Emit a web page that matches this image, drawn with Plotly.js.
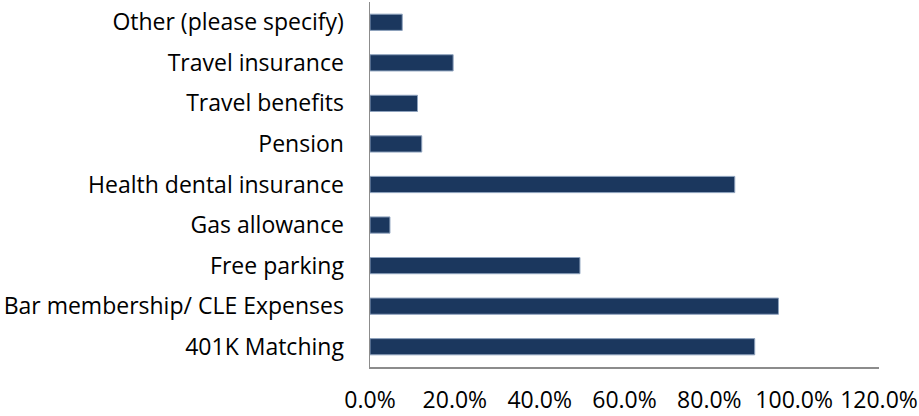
<!DOCTYPE html>
<html>
<head>
<meta charset="utf-8">
<script src="https://cdn.plot.ly/plotly-3.0.1.min.js"></script>
<style>html,body{margin:0;padding:0;background:#fff;}#chart{width:919px;height:416px;}</style>
</head>
<body>
<div id="chart"></div>
<script>
const categories = [
  "401K Matching",
  "Bar membership/ CLE Expenses",
  "Free parking",
  "Gas allowance",
  "Health dental insurance",
  "Pension",
  "Travel benefits",
  "Travel insurance",
  "Other (please specify)"
];
const values = [0.907, 0.963, 0.495, 0.047, 0.860, 0.122, 0.112, 0.196, 0.076];
const tickVals = [0, 0.2, 0.4, 0.6, 0.8, 1.0, 1.2];
const tickText = ["0.0%", "20.0%", "40.0%", "60.0%", "80.0%", "100.0%", "120.0%"];

const trace = {
  type: "bar",
  orientation: "h",
  x: values,
  y: categories,
  marker: { color: "#1b375e", line: { color: "#8ea2bd", width: 1 } },
  hoverinfo: "x+y"
};

const layout = {
  width: 919,
  height: 416,
  margin: { l: 370, r: 40, t: 2, b: 49, pad: 0 },
  paper_bgcolor: "#ffffff",
  plot_bgcolor: "#ffffff",
  bargap: 0.6,
  showlegend: false,
  font: { family: "'Open Sans', sans-serif", size: 23, color: "#000000" },
  xaxis: {
    range: [0, 1.2],
    tickvals: tickVals,
    ticktext: tickText,
    showgrid: false,
    zeroline: false,
    showline: true,
    linecolor: "#8c8c8c",
    linewidth: 1.5,
    ticks: "",
    ticklabelstandoff: 12,
    tickfont: { size: 23 },
    fixedrange: true
  },
  yaxis: {
    type: "category",
    categoryorder: "array",
    categoryarray: categories,
    showgrid: false,
    zeroline: false,
    showline: true,
    linecolor: "#8c8c8c",
    linewidth: 1.5,
    ticks: "",
    ticklabelstandoff: 20,
    tickfont: { size: 23 },
    fixedrange: true
  }
};

Plotly.newPlot("chart", [trace], layout, { displayModeBar: false, staticPlot: true });
</script>
</body>
</html>
